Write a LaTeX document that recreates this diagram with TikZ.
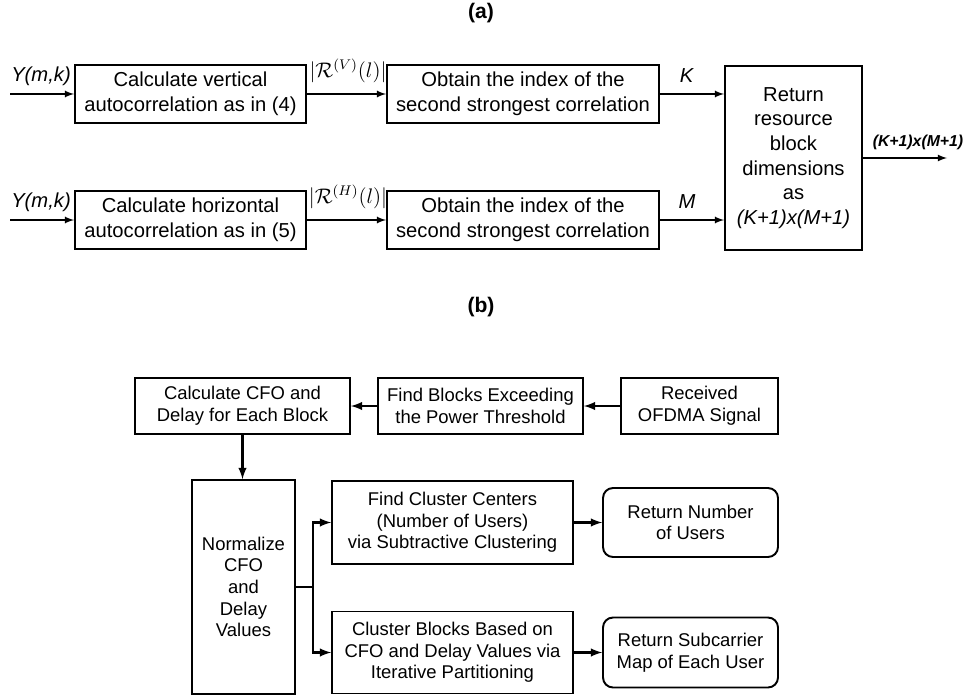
\documentclass[tikz,border=0pt]{standalone}
\usepackage{amsmath,amssymb}
\usepackage{fontspec}
\setmainfont{Liberation Sans}
\usetikzlibrary{arrows}
\usetikzlibrary{calc}

\begin{document}
\begin{tikzpicture}[x=0.02cm,y=-0.02cm,
	blk/.style={draw,line width=1.1pt,align=center,inner sep=0pt},
	rblk/.style={blk,rounded corners=0.2cm},
	arr/.style={-latex,line width=0.8pt},
	barr/.style={-latex,line width=1.2pt},
	fa/.style={font=\fontsize{11.5}{14}\selectfont},
	fb/.style={font=\fontsize{10.5}{12.3}\selectfont},
	tit/.style={font=\fontsize{12}{14}\selectfont\bfseries}]
	\useasboundingbox (0,0) rectangle (970,696);
	\node[tit] (tita) at (481,13) {(a)};
	\node[blk,fa,minimum width=2.74cm,minimum height=3.68cm] (ret) at (793.5,158) {Return\\resource\\block\\dimensions\\as\\\textit{(K+1)x(M+1)}};
	\foreach \rw/\yy/\kind/\ltr/\num/\idx in {v/94/vertical/V/4/K, h/220/horizontal/H/5/M} {
		\coordinate (in\rw) at (10,\yy);
		\node[blk,fa,minimum width=4.62cm,minimum height=1.16cm] (calc\rw) at (190.5,\yy) {Calculate \kind\\autocorrelation as in (\num)};
		\node[blk,fa,minimum width=5.44cm,minimum height=1.16cm] (obt\rw) at (523,\yy) {Obtain the index of the\\second strongest correlation};
		\draw[arr] (in\rw) -- (calc\rw);
		\draw[arr] (calc\rw) -- (obt\rw);
		\draw[arr] (obt\rw.east) -- (obt\rw.east -| ret.west);
		\node[fa] (y\rw) at (41,\yy-18) {\textit{Y(m,k)}};
		\node[fa] (r\rw) at (348,\yy-23) {$|\mathcal{R}^{(\ltr)}(l)|$};
		\node[fa] (k\rw) at (687,\yy-18) {\textit{\idx}};
	}
	\coordinate (outp) at (947,158);
	\draw[arr] (ret) -- (outp);
	\node[font=\bfseries\itshape\fontsize{9}{10}\selectfont] (outl) at (918,142) {(K+1)x(M+1)};

	\node[tit] (titb) at (481,307) {(b)};
	\node[blk,fb,minimum width=4.3cm,minimum height=1.12cm] (calc) at (242.5,406) {Calculate CFO and\\Delay for Each Block};
	\node[blk,fb,minimum width=4.1cm,minimum height=1.12cm] (find) at (480.5,406) {Find Blocks Exceeding\\the Power Threshold};
	\node[blk,fb,minimum width=3.14cm,minimum height=1.12cm] (recv) at (699.5,406) {Received\\OFDMA Signal};
	\node[blk,fb,minimum width=2.06cm,minimum height=4.28cm] (norm) at (243.5,587) {Normalize\\CFO\\and\\Delay\\Values};
	\node[blk,fb,minimum width=4.82cm,minimum height=1.66cm] (clus) at (452.5,522.5) {Find Cluster Centers\\(Number of Users)\\via Subtractive Clustering};
	\node[blk,fb,minimum width=4.82cm,minimum height=1.64cm] (part) at (452.5,652.5) {Cluster Blocks Based on\\CFO and Delay Values via\\Iterative Partitioning};
	\node[rblk,fb,minimum width=3.5cm,minimum height=1.38cm] (rnum) at (690.5,522.5) {Return Number\\of Users};
	\node[rblk,fb,minimum width=3.5cm,minimum height=1.4cm] (rmap) at (690.5,652.5) {Return Subcarrier\\Map of Each User};
	\coordinate (br) at (313,587);
	\draw[barr] (recv) -- (find);
	\draw[barr] (find) -- (calc);
	\draw[barr] (calc.south) -- (calc.south |- norm.north);
	\draw[line width=1.2pt] (norm.east) -- (br);
	\draw[barr] (br) |- (clus);
	\draw[barr] (br) |- (part);
	\draw[barr] (clus) -- (rnum);
	\draw[barr] (part) -- (rmap);
\end{tikzpicture}
\end{document}
